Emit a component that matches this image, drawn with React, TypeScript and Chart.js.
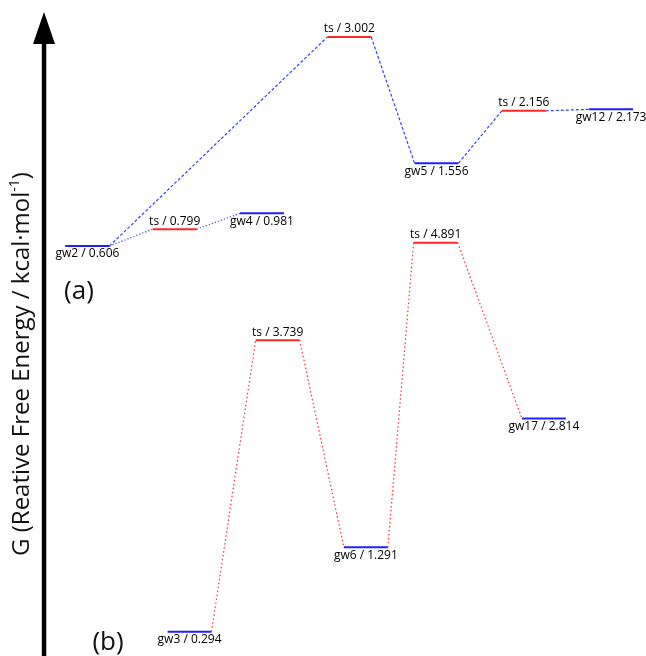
import React, { useEffect, useRef } from "react";
import { Chart, registerables } from "chart.js";

Chart.register(...registerables);

// Panel (a)
const namesA = ["gw2", "ts", "gw4", "ts", "gw5", "ts", "gw12"];
const valuesA = [0.606, 0.799, 0.981, 3.002, 1.556, 2.156, 2.173];
const slotsA = [0, 1, 2, 3, 4, 5, 6];
const pathA1 = [0, 1, 2];
const pathA2 = [0, 3, 4, 5, 6];

// Panel (b)
const namesB = ["gw3", "ts", "gw6", "ts", "gw17"];
const valuesB = [0.294, 3.739, 1.291, 4.891, 2.814];
const slotsB = [1.17, 2.18, 3.19, 3.99, 5.23];
const pathB = [0, 1, 2, 3, 4];

const HALF = 0.252;
const BLUE = "#1f1fff";
const RED = "#ff2626";
const BLUE_C = "#2f42ff";
const RED_C = "#ff3030";

function buildPath(path: number[], names: string[], values: number[], slots: number[]) {
  const pts: { x: number; y: number }[] = [];
  const kinds: string[] = [];
  path.forEach((i) => {
    pts.push({ x: slots[i] - HALF, y: values[i] });
    pts.push({ x: slots[i] + HALF, y: values[i] });
    kinds.push(names[i]);
  });
  return { pts, kinds };
}

function makeDataset(
  path: number[],
  names: string[],
  values: number[],
  slots: number[],
  axis: string,
  connColor: string,
  dash: number[]
) {
  const { pts, kinds } = buildPath(path, names, values, slots);
  return {
    data: pts,
    yAxisID: axis,
    pointRadius: 0,
    borderWidth: 1.2,
    borderColor: connColor,
    fill: false,
    tension: 0,
    segment: {
      borderColor: (c: any) =>
        c.p0DataIndex % 2 === 0
          ? kinds[c.p0DataIndex / 2].startsWith("ts")
            ? RED
            : BLUE
          : connColor,
      borderWidth: (c: any) => (c.p0DataIndex % 2 === 0 ? 2 : 1.2),
      borderDash: (c: any) => (c.p0DataIndex % 2 === 0 ? [] : dash),
    },
  };
}

const decorPlugin = {
  id: "decor",
  afterDatasetsDraw(chart: any) {
    const ctx = chart.ctx as CanvasRenderingContext2D;
    const xs = chart.scales.x;
    const ya = chart.scales.yA;
    const yb = chart.scales.yB;
    ctx.save();

    // Arrow axis
    ctx.fillStyle = "#000";
    ctx.fillRect(41.8, 40, 4.5, 620);
    ctx.beginPath();
    ctx.moveTo(44, 12);
    ctx.lineTo(55, 44);
    ctx.lineTo(33, 44);
    ctx.closePath();
    ctx.fill();

    // Axis title
    ctx.save();
    ctx.translate(22, 364);
    ctx.rotate(-Math.PI / 2);
    const mainFont = "24px 'Open Sans'";
    const supFont = "14px 'Open Sans'";
    const t1 = "G (Reative Free Energy / kcal·mol";
    const t2 = "-1";
    const t3 = ")";
    ctx.font = mainFont;
    const w1 = ctx.measureText(t1).width;
    const w3 = ctx.measureText(t3).width;
    ctx.font = supFont;
    const w2 = ctx.measureText(t2).width;
    let x0 = -(w1 + w2 + w3) / 2;
    ctx.textBaseline = "middle";
    ctx.textAlign = "left";
    ctx.fillStyle = "#111";
    ctx.font = mainFont;
    ctx.fillText(t1, x0, 0);
    x0 += w1;
    ctx.font = supFont;
    ctx.fillText(t2, x0, -7);
    x0 += w2;
    ctx.font = mainFont;
    ctx.fillText(t3, x0, 0);
    ctx.restore();

    // Level labels
    ctx.font = "12px 'Open Sans'";
    ctx.fillStyle = "#000";
    ctx.textAlign = "center";
    const drawLabels = (names: string[], values: number[], slots: number[], ys: any) => {
      names.forEach((n, i) => {
        const px = xs.getPixelForValue(slots[i]);
        const py = ys.getPixelForValue(values[i]);
        const txt = `${n} / ${values[i].toFixed(3)}`;
        if (n.startsWith("ts")) {
          ctx.textBaseline = "bottom";
          ctx.fillText(txt, px, py - 2);
        } else {
          ctx.textBaseline = "top";
          ctx.fillText(txt, px, py + 2);
        }
      });
    };
    drawLabels(namesA, valuesA, slotsA, ya);
    drawLabels(namesB, valuesB, slotsB, yb);

    // Panel letters
    ctx.font = "26px 'Open Sans'";
    ctx.fillStyle = "#111";
    ctx.textBaseline = "middle";
    ctx.fillText("(a)", 79, 292);
    ctx.fillText("(b)", 108, 643);

    ctx.restore();
  },
};

export default function App() {
  const ref = useRef<HTMLCanvasElement | null>(null);
  useEffect(() => {
    document.body.style.margin = "0";
    if (!ref.current) return;
    const chart = new Chart(ref.current, {
      type: "line",
      data: {
        datasets: [
          makeDataset(pathA1, namesA, valuesA, slotsA, "yA", BLUE_C, [1.2, 2]),
          makeDataset(pathA2, namesA, valuesA, slotsA, "yA", BLUE_C, [3, 2]),
          makeDataset(pathB, namesB, valuesB, slotsB, "yB", RED_C, [1.5, 2.5]),
        ] as any,
      },
      options: {
        animation: false,
        responsive: false,
        layout: { padding: 0 },
        plugins: { legend: { display: false }, tooltip: { enabled: false } },
        scales: {
          x: { type: "linear", min: -1.002, max: 6.4, display: false },
          yA: { type: "linear", position: "left", min: -4.096, max: 3.427, display: false },
          yB: { type: "linear", position: "right", min: 0.006, max: 7.76, display: false },
        },
      },
      plugins: [decorPlugin],
    });
    return () => chart.destroy();
  }, []);
  return (
    <div style={{ width: 646, height: 656, background: "#fff" }}>
      <canvas ref={ref} width={646} height={656} style={{ display: "block" }} />
    </div>
  );
}
